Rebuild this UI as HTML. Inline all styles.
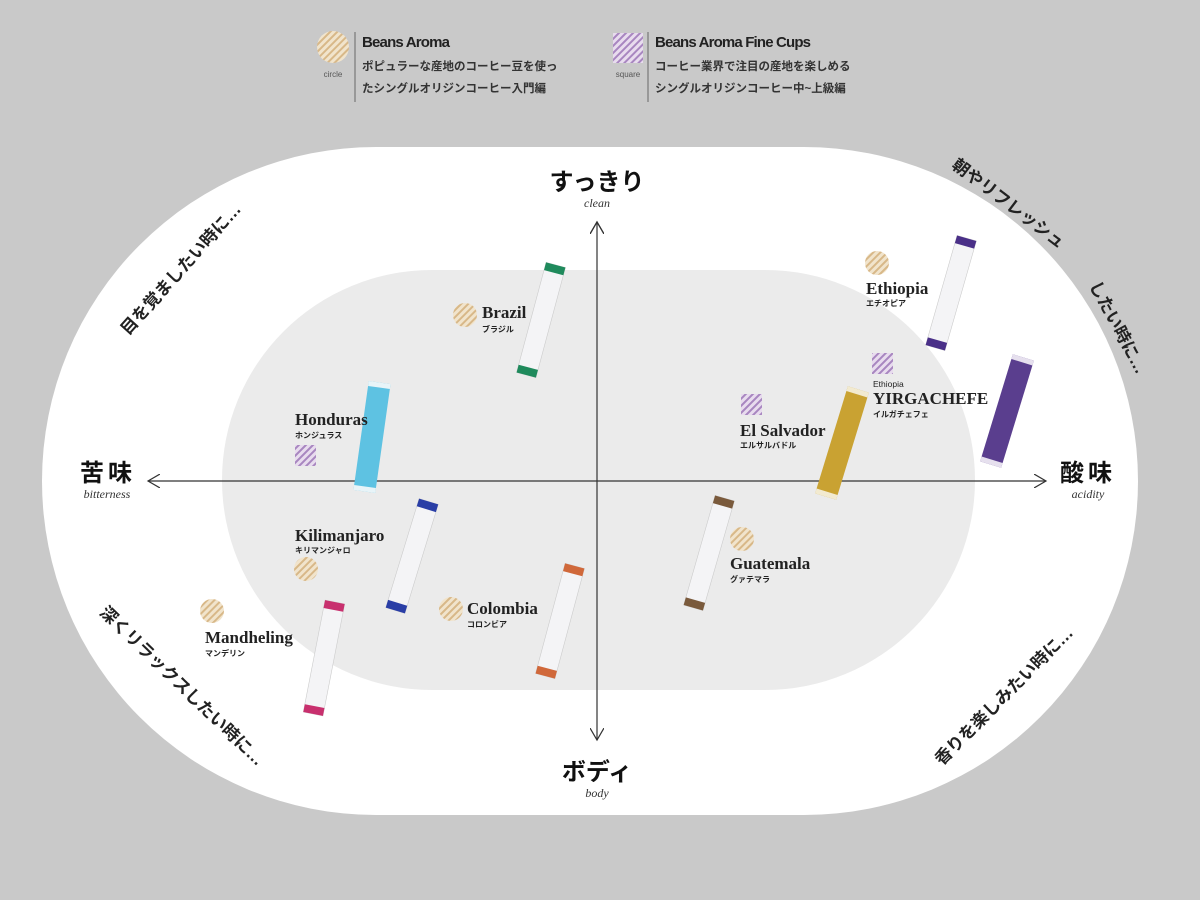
<!DOCTYPE html>
<html><head><meta charset="utf-8"><style>
html,body{margin:0;padding:0;background:#c9c9c9;}
svg{display:block;}
.jp{font-family:"Liberation Sans","Noto Sans CJK JP",sans-serif;font-weight:bold;}
.sf{font-family:"Liberation Serif",serif;font-weight:bold;fill:#222;}
.it{font-family:"Liberation Serif",serif;font-style:italic;fill:#333;}
</style></head><body>
<svg width="1200" height="900" viewBox="0 0 1200 900" xmlns="http://www.w3.org/2000/svg">
<defs>
<pattern id="pc" width="5" height="5" patternUnits="userSpaceOnUse" patternTransform="rotate(45)">
<rect width="5" height="5" fill="#f1e4cc"/><rect width="2" height="5" fill="#d8b888"/></pattern>
<pattern id="ps" width="5" height="5" patternUnits="userSpaceOnUse" patternTransform="rotate(45)">
<rect width="5" height="5" fill="#e8dcee"/><rect width="2" height="5" fill="#a886c0"/></pattern>
<marker id="ar" markerWidth="14" markerHeight="14" refX="12" refY="7" orient="auto" markerUnits="userSpaceOnUse">
<path d="M0,0 L12,7 L0,14" fill="none" stroke="#333" stroke-width="1.2"/></marker>
<g id="stick">
<rect x="-10" y="-57" width="20" height="114" fill="#f4f4f6" stroke="#ccc" stroke-width="0.6"/>
</g>
</defs>
<rect width="1200" height="900" fill="#c9c9c9"/>
<rect x="42" y="147" width="1096" height="668" rx="334" ry="334" fill="#fff"/>
<rect x="222" y="270" width="753" height="420" rx="210" ry="210" fill="#ebebeb"/>

<!-- legend -->
<circle cx="333" cy="47" r="16" fill="url(#pc)"/>
<text x="333" y="77" font-size="8" text-anchor="middle" fill="#555" font-family="Liberation Sans,sans-serif">circle</text>
<line x1="355" y1="32" x2="355" y2="102" stroke="#666" stroke-width="1"/>
<text x="362" y="47" class="jp" font-size="15" fill="#222" textLength="88">Beans Aroma</text>
<text x="362" y="70" class="jp" font-size="11.5" fill="#333">ポピュラーな産地のコーヒー豆を使っ</text>
<text x="362" y="92" class="jp" font-size="11.5" fill="#333">たシングルオリジンコーヒー入門編</text>
<rect x="613" y="33" width="30" height="30" fill="url(#ps)"/>
<text x="628" y="77" font-size="8" text-anchor="middle" fill="#555" font-family="Liberation Sans,sans-serif">square</text>
<line x1="648" y1="32" x2="648" y2="102" stroke="#666" stroke-width="1"/>
<text x="655" y="47" class="jp" font-size="15" fill="#222" textLength="156">Beans Aroma Fine Cups</text>
<text x="655" y="70" class="jp" font-size="11.5" fill="#333">コーヒー業界で注目の産地を楽しめる</text>
<text x="655" y="92" class="jp" font-size="11.5" fill="#333">シングルオリジンコーヒー中~上級編</text>

<!-- axes -->
<line x1="597" y1="228" x2="597" y2="222" stroke="#333" marker-end="url(#ar)"/>
<line x1="597" y1="481" x2="597" y2="222" stroke="#333" stroke-width="1.2" marker-end="url(#ar)"/>
<line x1="597" y1="481" x2="597" y2="740" stroke="#333" stroke-width="1.2" marker-end="url(#ar)"/>
<line x1="597" y1="481" x2="148" y2="481" stroke="#333" stroke-width="1.2" marker-end="url(#ar)"/>
<line x1="597" y1="481" x2="1046" y2="481" stroke="#333" stroke-width="1.2" marker-end="url(#ar)"/>

<text x="597" y="190" class="jp" font-size="24" text-anchor="middle" fill="#111">すっきり</text>
<text x="597" y="207" class="it" font-size="12" text-anchor="middle">clean</text>
<text x="597" y="780" class="jp" font-size="24" text-anchor="middle" fill="#111">ボディ</text>
<text x="597" y="797" class="it" font-size="12" text-anchor="middle">body</text>
<text x="108" y="481" class="jp" font-size="24" text-anchor="middle" fill="#111" letter-spacing="4">苦味</text>
<text x="107" y="498" class="it" font-size="12" text-anchor="middle">bitterness</text>
<text x="1088" y="481" class="jp" font-size="24" text-anchor="middle" fill="#111" letter-spacing="4">酸味</text>
<text x="1088" y="498" class="it" font-size="12" text-anchor="middle">acidity</text>

<!-- corner phrases -->
<g class="jp" font-size="17" fill="#222" text-anchor="middle">
<text transform="translate(185,273) rotate(-48)">目を覚ましたい時に…</text>
<text transform="translate(1005,208) rotate(37)">朝やリフレッシュ</text>
<text transform="translate(1113,330) rotate(62)">したい時に…</text>
<text transform="translate(178,690) rotate(44)">深くリラックスしたい時に…</text>
<text transform="translate(1008,700) rotate(-45)">香りを楽しみたい時に…</text>
</g>

<!-- sticks -->
<g transform="translate(541,320) rotate(15)"><use href="#stick"/><rect x="-10" y="-57" width="20" height="8" fill="#1f8a5c"/><rect x="-10" y="49" width="20" height="8" fill="#1f8a5c"/></g>
<g transform="translate(372,437) rotate(8)"><rect x="-11" y="-55" width="22" height="110" fill="#5ec2e2"/><rect x="-11" y="-55" width="22" height="5" fill="#e8f4f8"/><rect x="-11" y="50" width="22" height="5" fill="#e8f4f8"/></g>
<g transform="translate(412,556) rotate(17)"><use href="#stick"/><rect x="-10" y="-57" width="20" height="8" fill="#2a3ea6"/><rect x="-10" y="49" width="20" height="8" fill="#2a3ea6"/></g>
<g transform="translate(324,658) rotate(11)"><use href="#stick"/><rect x="-10" y="-57" width="20" height="8" fill="#c8306e"/><rect x="-10" y="49" width="20" height="8" fill="#c8306e"/></g>
<g transform="translate(560,621) rotate(15)"><use href="#stick"/><rect x="-10" y="-57" width="20" height="8" fill="#d0683a"/><rect x="-10" y="49" width="20" height="8" fill="#d0683a"/></g>
<g transform="translate(709,553) rotate(16)"><use href="#stick"/><rect x="-10" y="-57" width="20" height="8" fill="#7a5a3c"/><rect x="-10" y="49" width="20" height="8" fill="#7a5a3c"/></g>
<g transform="translate(842,443) rotate(17)"><rect x="-11" y="-56" width="22" height="112" fill="#c9a232"/><rect x="-11" y="-56" width="22" height="5" fill="#f2ead0"/><rect x="-11" y="51" width="22" height="5" fill="#f2ead0"/></g>
<g transform="translate(1007,411) rotate(17)"><rect x="-11" y="-56" width="22" height="112" fill="#5a3e8e"/><rect x="-11" y="-56" width="22" height="5" fill="#e6e0ee"/><rect x="-11" y="51" width="22" height="5" fill="#e6e0ee"/></g>
<g transform="translate(951,293) rotate(16)"><use href="#stick"/><rect x="-10" y="-57" width="20" height="8" fill="#4a3088"/><rect x="-10" y="49" width="20" height="8" fill="#4a3088"/></g>

<!-- markers -->
<g fill="url(#pc)">
<circle cx="465" cy="315" r="12"/><circle cx="877" cy="263" r="12"/><circle cx="306" cy="569" r="12"/>
<circle cx="212" cy="611" r="12"/><circle cx="451" cy="609" r="12"/><circle cx="742" cy="539" r="12"/>
</g>
<g fill="url(#ps)">
<rect x="295" y="445" width="21" height="21"/><rect x="741" y="394" width="21" height="21"/><rect x="872" y="353" width="21" height="21"/>
</g>

<!-- labels -->
<g class="sf" font-size="17">
<text x="482" y="318">Brazil</text>
<text x="295" y="425">Honduras</text>
<text x="295" y="541">Kilimanjaro</text>
<text x="205" y="643">Mandheling</text>
<text x="467" y="614">Colombia</text>
<text x="730" y="569">Guatemala</text>
<text x="740" y="436">El Salvador</text>
<text x="866" y="294">Ethiopia</text>
<text x="873" y="404">YIRGACHEFE</text>
</g>
<g class="jp" font-size="8" fill="#222">
<text x="482" y="332">ブラジル</text>
<text x="295" y="438">ホンジュラス</text>
<text x="295" y="553">キリマンジャロ</text>
<text x="205" y="656">マンデリン</text>
<text x="467" y="627">コロンビア</text>
<text x="730" y="582">グァテマラ</text>
<text x="740" y="448">エルサルバドル</text>
<text x="866" y="306">エチオピア</text>
<text x="873" y="417">イルガチェフェ</text>
<text x="873" y="387" font-size="8.5" font-weight="normal">Ethiopia</text>
</g>
</svg>
</body></html>
